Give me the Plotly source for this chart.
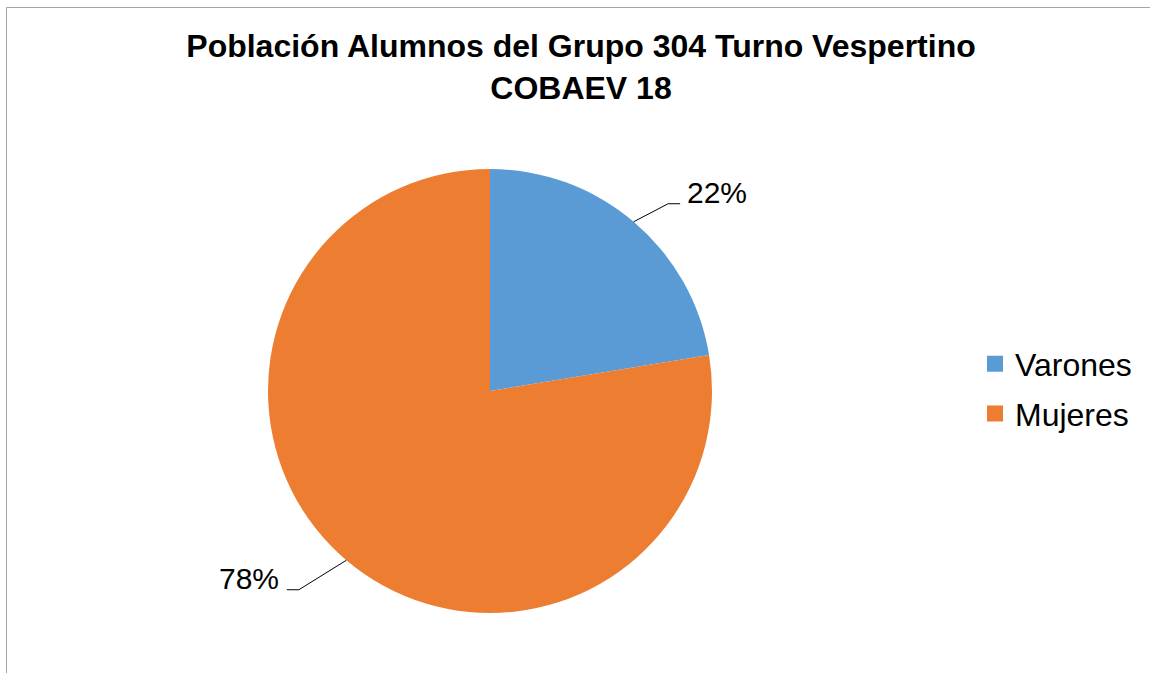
import math
import plotly.graph_objects as go

# ---- data ----
categories = ["Varones", "Mujeres"]
values = [22.4, 77.6]          # percentage of students
colors = ["#5B9BD5", "#ED7D31"]
title_lines = ["Población Alumnos del Grupo 304 Turno Vespertino", "COBAEV 18"]

# ---- layout constants (pixels) ----
W, H = 1150, 673
CX, CY, R = 490, 391, 222
FONT = "Liberation Sans, Arial, sans-serif"
# leader-line offsets per slice: (elbow dx, elbow dy, horizontal run, text gap)
LEADER = [(34.5, -18, 12, 5), (-47.5, 29.5, -12, -6)]


def px(x):
    return x / W


def py(y):
    return 1 - y / H


fig = go.Figure()

fig.add_trace(go.Pie(
    labels=categories,
    values=values,
    marker=dict(colors=colors, line=dict(width=0)),
    sort=False,
    direction="clockwise",
    rotation=0,
    textinfo="none",
    hoverinfo="label+percent",
    showlegend=False,
    domain=dict(x=[px(CX - R), px(CX + R)], y=[py(CY + R), py(CY - R)]),
))

# legend entries (square swatches)
for name, col in zip(categories, colors):
    fig.add_trace(go.Scatter(
        x=[None], y=[None], mode="markers", name=name, legendgroup=name,
        marker=dict(symbol="square", size=17, color=col),
        showlegend=True,
    ))

# percentage labels with leader lines, derived from the values
total = sum(values)
shapes = []
annotations = []
cum = 0.0
for i, v in enumerate(values):
    mid = (cum + v / 2) / total * 2 * math.pi
    cum += v
    ex = CX + R * math.sin(mid)
    ey = CY - R * math.cos(mid)
    dx, dy, run, gap = LEADER[i]
    bx, by = ex + dx, ey + dy
    hx = bx + run
    shapes.append(dict(
        type="path", xref="paper", yref="paper",
        path=f"M {px(ex)} {py(ey)} L {px(bx)} {py(by)} L {px(hx)} {py(by)}",
        line=dict(color="black", width=1),
    ))
    pct = round(v / total * 100)
    annotations.append(dict(
        xref="paper", yref="paper",
        x=px(hx + gap), y=py(by - 11),
        xanchor="left" if run > 0 else "right", yanchor="middle",
        text=f"{pct}%", showarrow=False,
        font=dict(family=FONT, size=30, color="black"),
    ))

# chart border (partially visible)
shapes.append(dict(
    type="rect", xref="paper", yref="paper",
    x0=px(6.5), x1=1.05, y0=-0.05, y1=py(7.5),
    line=dict(color="#A6A6A6", width=1), fillcolor="rgba(0,0,0,0)",
))

fig.update_layout(
    width=W, height=H,
    margin=dict(l=0, r=0, t=0, b=0),
    paper_bgcolor="white", plot_bgcolor="white",
    xaxis=dict(visible=False), yaxis=dict(visible=False),
    title=dict(
        text="<br>".join(title_lines),
        x=px(581), xanchor="center", xref="paper",
        y=py(57), yanchor="top", yref="container",
        font=dict(family=FONT, size=32, color="black", weight="bold"),
    ),
    legend=dict(
        x=px(975), y=py(389), xanchor="left", yanchor="middle",
        font=dict(family=FONT, size=32, color="black"),
        bgcolor="rgba(0,0,0,0)", itemclick=False,
        traceorder="grouped", tracegroupgap=5,
    ),
    shapes=shapes,
    annotations=annotations,
    showlegend=True,
)

fig.write_html(
    "out.html",
    config={"displayModeBar": False},
    post_script="document.body.style.margin='0';document.body.style.overflow='hidden';",
)
